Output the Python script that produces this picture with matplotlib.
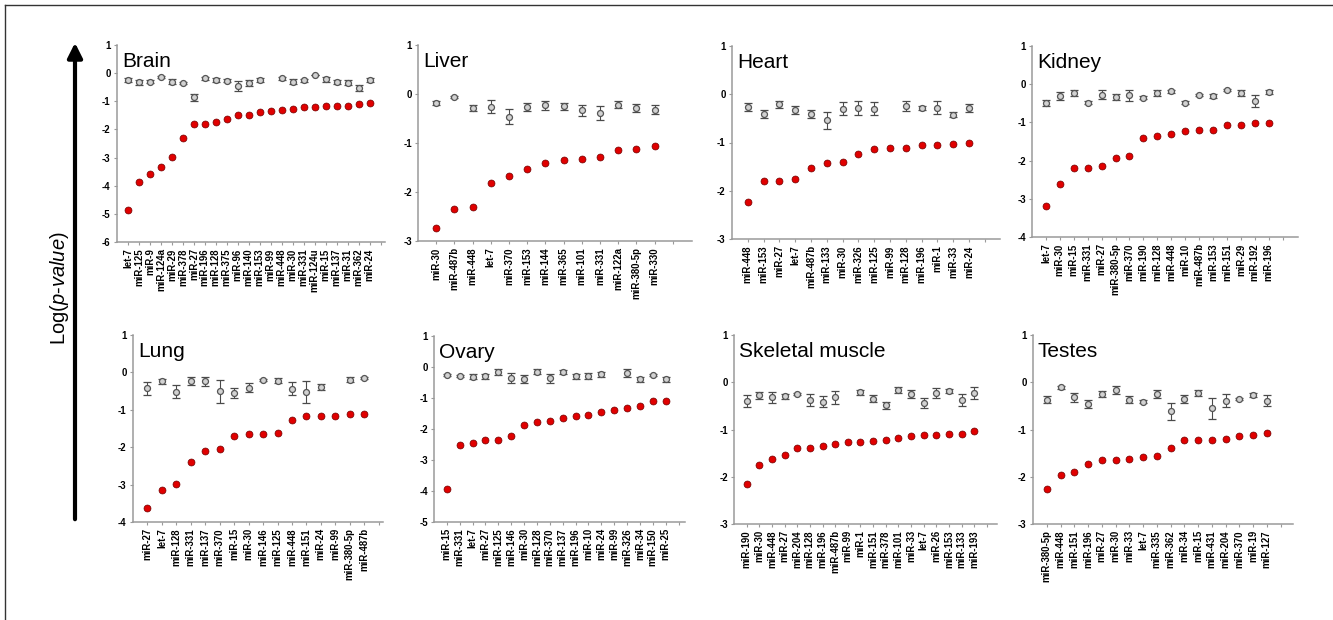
import numpy as np
import matplotlib
matplotlib.use("Agg")
import matplotlib.pyplot as plt
from matplotlib.lines import Line2D
from matplotlib.patches import FancyArrowPatch

plt.rcParams["font.family"] = ["Liberation Sans", "DejaVu Sans"]
plt.rcParams["mathtext.fontset"] = "custom"
plt.rcParams["mathtext.it"] = "Liberation Sans:italic"
plt.rcParams["mathtext.rm"] = "Liberation Sans"

nan = np.nan

# ---- data ----
brain_labels = ["let-7", "miR-125", "miR-9", "miR-124a", "miR-29", "miR-378", "miR-27",
                "miR-196", "miR-128", "miR-375", "miR-96", "miR-140", "miR-153", "miR-99",
                "miR-448", "miR-30", "miR-331", "miR-124u", "miR-15", "miR-137", "miR-31",
                "miR-362", "miR-24"]
brain_red = [-4.88, -3.86, -3.58, -3.34, -2.98, -2.30, -1.82, -1.79, -1.75, -1.63, -1.48,
             -1.48, -1.37, -1.36, -1.32, -1.29, -1.20, -1.19, -1.17, -1.17, -1.16, -1.11, -1.06]
brain_gray = [-0.24, -0.33, -0.30, -0.15, -0.30, -0.35, -0.86, -0.19, -0.24, -0.27, -0.47,
              -0.34, -0.25, nan, -0.19, -0.30, -0.26, -0.06, -0.22, -0.32, -0.34, -0.53, -0.24]
brain_err = [0.08, 0.08, 0.04, 0.04, 0.08, 0.05, 0.12, 0.06, 0.06, 0.05, 0.18,
             0.10, 0.08, nan, 0.06, 0.08, 0.05, 0.0, 0.08, 0.08, 0.08, 0.12, 0.07]

liver_labels = ["miR-30", "miR-487b", "miR-448", "let-7", "miR-370", "miR-153", "miR-144",
                "miR-365", "miR-101", "miR-331", "miR-122a", "miR-380-5p", "miR-330"]
liver_red = [-2.73, -2.35, -2.30, -1.82, -1.68, -1.54, -1.41, -1.35, -1.32, -1.29, -1.15,
             -1.13, -1.06]
liver_gray = [-0.19, -0.07, -0.28, -0.26, -0.46, -0.27, -0.23, -0.25, -0.33, -0.39, -0.22,
              -0.29, -0.32]
liver_err = [0.04, 0.02, 0.06, 0.13, 0.15, 0.08, 0.09, 0.07, 0.11, 0.15, 0.07, 0.08, 0.09]

heart_labels = ["miR-448", "miR-153", "miR-27", "let-7", "miR-487b", "miR-133", "miR-30",
                "miR-326", "miR-125", "miR-99", "miR-128", "miR-196", "miR-1", "miR-33",
                "miR-24"]
heart_red = [-2.24, -1.79, -1.79, -1.76, -1.52, -1.42, -1.41, -1.23, -1.13, -1.12, -1.12,
             -1.06, -1.06, -1.04, -1.02]
heart_gray = [-0.26, -0.41, -0.21, -0.32, -0.41, -0.54, -0.30, -0.28, -0.30, nan, -0.24,
              -0.28, -0.28, -0.42, -0.29]
heart_err = [0.08, 0.08, 0.07, 0.08, 0.08, 0.17, 0.14, 0.14, 0.14, nan, 0.10, 0.04, 0.13,
             0.06, 0.08]

kidney_labels = ["let-7", "miR-30", "miR-15", "miR-331", "miR-27", "miR-380-5p", "miR-370",
                 "miR-190", "miR-128", "miR-448", "miR-10", "miR-487b", "miR-153", "miR-151",
                 "miR-29", "miR-192", "miR-196"]
kidney_red = [-3.18, -2.60, -2.20, -2.19, -2.15, -1.93, -1.89, -1.42, -1.35, -1.31, -1.22,
              -1.21, -1.19, -1.07, -1.06, -1.02, -1.01]
kidney_gray = [-0.49, -0.31, -0.23, -0.48, -0.28, -0.33, -0.29, -0.35, -0.24, -0.19, -0.48,
               -0.28, -0.31, -0.16, -0.23, -0.44, -0.20]
kidney_err = [0.07, 0.11, 0.09, 0.04, 0.12, 0.08, 0.14, 0.05, 0.08, 0.04, 0.05, 0.03, 0.06,
              0.03, 0.07, 0.16, 0.06]

lung_labels = ["miR-27", "let-7", "miR-128", "miR-331", "miR-137", "miR-370", "miR-15",
               "miR-30", "miR-146", "miR-125", "miR-448", "miR-151", "miR-24", "miR-99",
               "miR-380-5p", "miR-487b"]
lung_red = [-3.63, -3.14, -2.99, -2.39, -2.10, -2.04, -1.70, -1.66, -1.64, -1.62, -1.28,
            -1.16, -1.16, -1.16, -1.10, -1.10]
lung_gray = [-0.43, -0.24, -0.52, -0.24, -0.24, -0.51, -0.56, -0.41, -0.21, -0.22, -0.44,
             -0.52, -0.40, nan, -0.19, -0.15]
lung_err = [0.17, 0.07, 0.17, 0.11, 0.12, 0.30, 0.13, 0.12, 0.03, 0.07, 0.17, 0.30, 0.08,
            nan, 0.07, 0.03]

ovary_labels = ["miR-15", "miR-331", "let-7", "miR-27", "miR-125", "miR-146", "miR-30",
                "miR-128", "miR-370", "miR-137", "miR-196", "miR-10", "miR-24", "miR-99",
                "miR-326", "miR-34", "miR-150", "miR-25"]
ovary_red = [-3.93, -2.51, -2.45, -2.35, -2.35, -2.21, -1.88, -1.78, -1.73, -1.65, -1.58,
             -1.55, -1.45, -1.38, -1.32, -1.26, -1.11, -1.09]
ovary_gray = [-0.26, -0.29, -0.31, -0.30, -0.17, -0.35, -0.39, -0.15, -0.36, -0.17, -0.30,
              -0.29, -0.24, nan, -0.19, -0.39, -0.26, -0.40]
ovary_err = [0.04, 0.04, 0.07, 0.08, 0.09, 0.15, 0.14, 0.08, 0.15, 0.07, 0.09, 0.10, 0.08,
             nan, 0.12, 0.08, 0.04, 0.08]

muscle_labels = ["miR-190", "miR-30", "miR-448", "miR-27", "miR-204", "miR-128", "miR-196",
                 "miR-487b", "miR-99", "miR-1", "miR-151", "miR-378", "miR-101", "miR-33",
                 "let-7", "miR-26", "miR-153", "miR-133", "miR-193"]
muscle_red = [-2.15, -1.76, -1.62, -1.54, -1.40, -1.40, -1.34, -1.31, -1.26, -1.26, -1.24,
              -1.23, -1.19, -1.14, -1.12, -1.11, -1.10, -1.09, -1.04]
muscle_gray = [-0.40, -0.28, -0.32, -0.30, -0.25, -0.37, -0.41, -0.32, nan, -0.21, -0.35,
               -0.49, -0.17, -0.25, -0.44, -0.23, -0.18, -0.37, -0.23]
muscle_err = [0.12, 0.08, 0.11, 0.06, 0.02, 0.13, 0.12, 0.14, nan, 0.05, 0.07, 0.07, 0.06,
              0.08, 0.10, 0.10, 0.04, 0.13, 0.12]

testes_labels = ["miR-380-5p", "miR-448", "miR-151", "miR-196", "miR-27", "miR-30",
                 "miR-33", "let-7", "miR-335", "miR-362", "miR-34", "miR-15", "miR-431",
                 "miR-204", "miR-370", "miR-19", "miR-127"]
testes_red = [-2.26, -1.96, -1.91, -1.74, -1.65, -1.65, -1.62, -1.58, -1.56, -1.39, -1.23,
              -1.23, -1.23, -1.21, -1.14, -1.11, -1.07]
testes_gray = [-0.37, -0.11, -0.32, -0.46, -0.25, -0.16, -0.37, -0.41, -0.25, -0.61, -0.36,
               -0.23, -0.55, -0.39, -0.36, -0.27, -0.39]
testes_err = [0.07, 0.04, 0.10, 0.09, 0.06, 0.08, 0.07, 0.03, 0.08, 0.18, 0.08, 0.06, 0.22,
              0.14, 0.02, 0.05, 0.12]

W, H = 1333, 620

# name, labels, red, gray, err, ymin, pixel box (x0, x1, ytop, ybot), right pad
panels = [
    ("Brain", brain_labels, brain_red, brain_gray, brain_err, -6, (117, 385, 45, 242), 0.4),
    ("Liver", liver_labels, liver_red, liver_gray, liver_err, -3, (418, 692, 45, 241), 1.05),
    ("Heart", heart_labels, heart_red, heart_gray, heart_err, -3, (732, 1000, 46, 239), 0.96),
    ("Kidney", kidney_labels, kidney_red, kidney_gray, kidney_err, -4, (1032, 1298, 46, 237), 1.1),
    ("Lung", lung_labels, lung_red, lung_gray, lung_err, -4, (133, 383, 335, 522), 0.3),
    ("Ovary", ovary_labels, ovary_red, ovary_gray, ovary_err, -5, (434, 685, 336, 522), 0.5),
    ("Skeletal muscle", muscle_labels, muscle_red, muscle_gray, muscle_err, -3,
     (734, 997, 335, 524), 0.8),
    ("Testes", testes_labels, testes_red, testes_gray, testes_err, -3, (1033, 1293, 335, 524), 0.9),
]

fig = plt.figure(figsize=(W / 100, H / 100), dpi=100)

axis_col = "#9a9a9a"

for name, labels, red, gray, err, ymin, box, pad in panels:
    x0, x1, yt, yb = box
    ax = fig.add_axes([x0 / W, 1 - yb / H, (x1 - x0) / W, (yb - yt) / H])
    n = len(labels)
    x = np.arange(n)

    ax.errorbar(x, gray, yerr=err, fmt="o", ms=4.3, mfc="#d2d2d2", mec="#555555", mew=0.9,
                ecolor="#4a4a4a", elinewidth=0.8, capsize=2.7, capthick=0.8, zorder=3)
    ax.plot(x, red, "o", ms=5, mfc="#e00000", mec="#700000", mew=0.5, zorder=4)

    ax.set_xlim(-1, n + pad)
    ax.set_ylim(ymin, 1)
    ax.set_xticks(np.arange(n + 1))
    ax.set_xticklabels(labels + [""], rotation=90, fontsize=6.9, fontweight="bold")
    ax.set_yticks(np.arange(ymin, 2))
    ax.set_yticklabels([str(v) for v in range(ymin, 2)], fontsize=6.9, fontweight="bold")
    ax.tick_params(axis="both", length=2.5, width=0.8, color=axis_col, pad=2)

    for side in ["top", "right"]:
        ax.spines[side].set_visible(False)
    for side in ["left", "bottom"]:
        ax.spines[side].set_color(axis_col)
        ax.spines[side].set_linewidth(1.1)

    ax.annotate(name, xy=(0, 1), xycoords="axes fraction", xytext=(5, -22),
                textcoords="offset pixels", fontsize=15, ha="left", va="baseline")

# shared y label and arrow
fig.text(60 / W, 1 - 288 / H, r"Log($\mathit{p}$-$\mathit{value}$)", rotation=90,
         ha="center", va="center", fontsize=14.5)
fig.add_artist(FancyArrowPatch((75 / W, 1 - 522 / H), (75 / W, 1 - 40 / H),
                               transform=fig.transFigure, arrowstyle="-|>",
                               mutation_scale=22, lw=3, color="black"))

# frame lines on the left and top
fig.add_artist(Line2D([5 / W, 5 / W], [0, 1 - 5 / H], transform=fig.transFigure,
                      color="#333333", lw=1))
fig.add_artist(Line2D([5 / W, 1], [1 - 5 / H, 1 - 5 / H], transform=fig.transFigure,
                      color="#333333", lw=1))

fig.savefig("out.png", dpi=100)
